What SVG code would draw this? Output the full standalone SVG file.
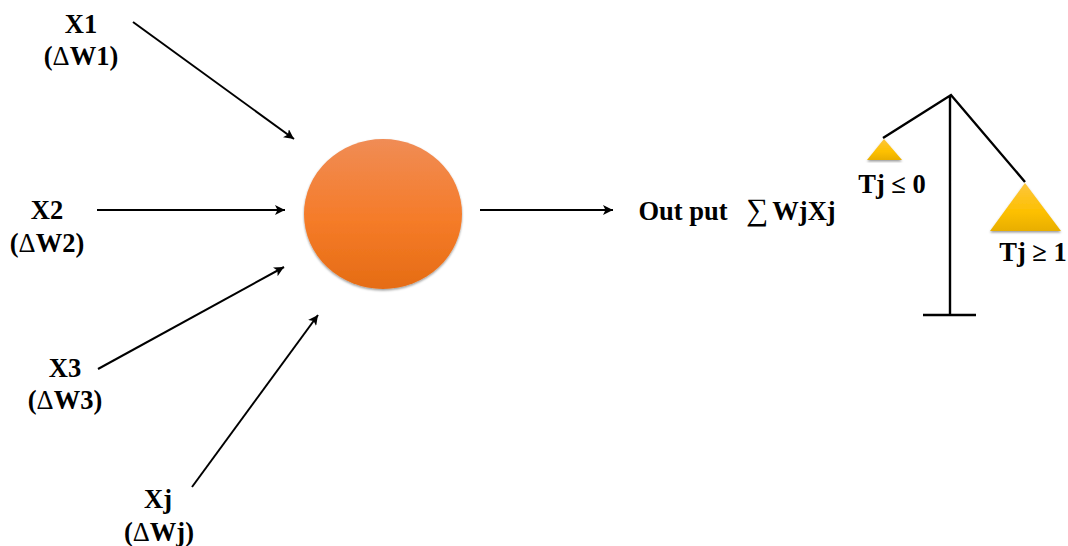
<svg xmlns="http://www.w3.org/2000/svg" width="1068" height="546" viewBox="0 0 1068 546">
<style>
text{font-family:"Liberation Serif","Times New Roman",serif;font-weight:bold;font-size:26.5px;fill:#000;text-anchor:middle}
.n{font-weight:normal}
.s{font-weight:normal;font-size:31px}
.c{stroke:#000;stroke-width:2;fill:none;marker-end:url(#a)}
.l{stroke:#000;stroke-width:2.4;fill:none}
</style>
<defs>
<marker id="a" viewBox="0 0 10 10" refX="10" refY="5" markerWidth="5" markerHeight="5" orient="auto"><path d="M0 0L10 5L0 10L2.5 5Z" fill="#000"/></marker>
<linearGradient id="o" x1="0" y1="0" x2="0" y2="1"><stop offset="0" stop-color="#f08c55"/><stop offset=".55" stop-color="#f57b28"/><stop offset="1" stop-color="#e56c14"/></linearGradient>
<linearGradient id="y" x1="0" y1="0" x2="0" y2="1"><stop offset="0" stop-color="#fdc63e"/><stop offset=".6" stop-color="#fdc000"/><stop offset="1" stop-color="#e8ae05"/></linearGradient>
<filter id="s" x="-10%" y="-10%" width="120%" height="120%"><feDropShadow dx="0" dy="1.5" stdDeviation="1.2" flood-color="#000" flood-opacity=".4"/></filter>
</defs>
<g id="connectors">
<line class="c" x1="133" y1="22" x2="294" y2="139"/>
<line class="c" x1="97" y1="210" x2="285" y2="210"/>
<line class="c" x1="98" y1="369" x2="284" y2="267"/>
<line class="c" x1="192" y1="487" x2="318" y2="315"/>
<line class="c" x1="480" y1="210" x2="613" y2="210"/>
</g>
<g id="x1"><text x="81" y="33">X1</text><text x="81" y="65">(<tspan class="n">Δ</tspan>W1)</text></g>
<g id="x2"><text x="47" y="219">X2</text><text x="47" y="252">(<tspan class="n">Δ</tspan>W2)</text></g>
<g id="x3"><text x="65" y="377">X3</text><text x="65" y="409">(<tspan class="n">Δ</tspan>W3)</text></g>
<g id="xj"><text x="158" y="508">Xj</text><text x="159" y="541">(<tspan class="n">Δ</tspan>Wj)</text></g>
<g id="neuron"><ellipse cx="383" cy="214" rx="79" ry="75" fill="url(#o)" filter="url(#s)"/></g>
<g id="output"><text x="683" y="220">Out put</text><text class="s" x="757" y="220">∑</text><text x="804" y="220">WjXj</text></g>
<g id="balance">
<path class="l" d="M883 138L951 95L1025 182M950 95V315M923 315H976"/>
<polygon points="884,139 902,160 867,160" fill="url(#y)" filter="url(#s)"/>
<polygon points="1025,183 1061,231 990,231" fill="url(#y)" filter="url(#s)"/>
</g>
<g id="tj0"><text x="892" y="193">Tj ≤ 0</text></g>
<g id="tj1"><text x="1033" y="261">Tj ≥ 1</text></g>
</svg>
